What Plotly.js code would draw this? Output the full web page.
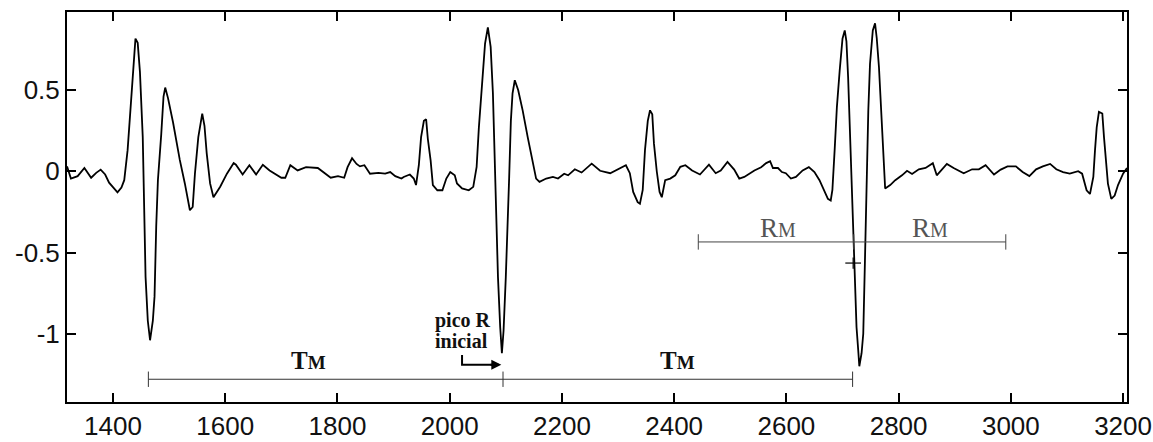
<!DOCTYPE html>
<html>
<head>
<meta charset="utf-8">
<script src="https://cdn.plot.ly/plotly-3.0.1.min.js"></script>
<style>
  html, body { margin: 0; padding: 0; background: #fff; }
  #chart { width: 1153px; height: 442px; }
</style>
</head>
<body>
<div id="chart"></div>
<script>
// ECG segment (sample index vs. amplitude)
const sampleIdx = [
  1318, 1325, 1337, 1349, 1361, 1370, 1378, 1386, 1393, 1402, 1408, 1415, 1420, 1426, 1432, 1435, 1438, 1440, 1444, 1448,
  1453, 1456, 1458, 1462, 1466, 1471, 1474, 1477, 1480, 1486, 1490, 1493, 1498, 1507, 1519, 1528, 1537, 1542, 1546, 1552,
  1555, 1559, 1563, 1567, 1573, 1579, 1591, 1603, 1615, 1619, 1631, 1643, 1655, 1667, 1679, 1688, 1700, 1707, 1716, 1729,
  1744, 1765, 1777, 1788, 1801, 1812, 1818, 1826, 1834, 1840, 1848, 1858, 1873, 1885, 1894, 1903, 1914, 1918, 1929, 1936,
  1940, 1945, 1949, 1954, 1958, 1961, 1966, 1970, 1978, 1987, 1994, 2001, 2009, 2013, 2022, 2034, 2042, 2048, 2052, 2058,
  2063, 2068, 2073, 2077, 2080, 2083, 2086, 2090, 2093, 2096, 2100, 2106, 2109, 2112, 2116, 2122, 2130, 2139, 2148, 2154,
  2160, 2172, 2184, 2193, 2204, 2211, 2223, 2235, 2253, 2268, 2286, 2298, 2314, 2321, 2327, 2335, 2339, 2344, 2348, 2353,
  2357, 2361, 2364, 2369, 2374, 2378, 2384, 2393, 2402, 2411, 2420, 2432, 2446, 2462, 2474, 2483, 2495, 2507, 2516, 2525,
  2534, 2543, 2555, 2564, 2571, 2576, 2585, 2592, 2599, 2608, 2617, 2629, 2640, 2650, 2659, 2666, 2674, 2679, 2682, 2686,
  2690, 2695, 2700, 2704, 2707, 2710, 2713, 2716, 2719, 2722, 2725, 2728, 2730, 2734, 2737, 2740, 2743, 2746, 2749, 2754,
  2758, 2761, 2765, 2770, 2774, 2776, 2785, 2794, 2806, 2815, 2824, 2836, 2848, 2861, 2868, 2877, 2886, 2898, 2916, 2931,
  2943, 2955, 2970, 2982, 2994, 3009, 3021, 3033, 3045, 3057, 3070, 3081, 3093, 3105, 3120, 3127, 3135, 3141, 3147, 3150,
  3153, 3157, 3163, 3166, 3169, 3173, 3179, 3185, 3191, 3200, 3207
];
const amplitude = [
  0.03, -0.045, -0.03, 0.02, -0.04, -0.01, 0.01, -0.02, -0.07, -0.11, -0.13, -0.10, -0.055, 0.13, 0.42, 0.61, 0.76, 0.816, 0.79, 0.61,
  0.21, -0.20, -0.65, -0.92, -1.04, -0.92, -0.77, -0.34, -0.055, 0.23, 0.46, 0.515, 0.45, 0.30, 0.07, -0.075, -0.24, -0.22, -0.015, 0.21,
  0.28, 0.355, 0.28, 0.11, -0.075, -0.16, -0.095, -0.015, 0.05, 0.04, -0.02, 0.037, -0.02, 0.04, 0.005, -0.015, -0.04, -0.04, 0.037, 0.005,
  0.025, 0.02, -0.012, -0.04, -0.03, -0.04, 0.025, 0.08, 0.045, 0.03, 0.037, -0.015, -0.01, -0.015, -0.005, -0.03, -0.045, -0.035, -0.02, -0.045,
  -0.085, 0.037, 0.21, 0.31, 0.32, 0.20, 0.067, -0.085, -0.117, -0.117, -0.045, -0.005, -0.025, -0.075, -0.106, -0.117, -0.096, 0.027, 0.27, 0.58,
  0.785, 0.885, 0.765, 0.48, 0.09, -0.24, -0.65, -0.96, -1.12, -0.98, -0.65, -0.035, 0.31, 0.48, 0.56, 0.50, 0.375, 0.21, 0.047, -0.045,
  -0.065, -0.045, -0.035, -0.045, -0.015, -0.025, 0.012, -0.008, 0.047, 0.003, -0.012, 0.01, 0.037, -0.012, -0.127, -0.19, -0.20, -0.115, 0.13, 0.31,
  0.375, 0.35, 0.17, 0.0, -0.127, -0.16, -0.055, -0.045, -0.025, 0.027, 0.037, 0.005, -0.02, 0.04, -0.012, 0.005, 0.057, 0.01, -0.045, -0.035,
  -0.015, 0.005, 0.025, 0.05, 0.062, 0.02, 0.02, -0.005, -0.012, -0.045, -0.035, 0.005, 0.025, -0.005, -0.055, -0.106, -0.17, -0.18, -0.115, 0.13,
  0.395, 0.62, 0.816, 0.867, 0.80, 0.58, 0.27, -0.137, -0.445, -0.75, -0.96, -1.10, -1.20, -1.12, -1.00, -0.55, -0.035, 0.375, 0.66, 0.867,
  0.91, 0.82, 0.64, 0.31, 0.047, -0.106, -0.085, -0.055, -0.025, 0.003, -0.017, 0.012, 0.02, 0.05, -0.025, 0.012, 0.045, 0.02, -0.012, 0.012,
  0.012, 0.037, -0.02, 0.01, 0.03, 0.03, -0.005, -0.03, 0.012, 0.03, 0.045, 0.012, -0.005, -0.015, 0.0, -0.015, -0.117, -0.14, -0.035, 0.13,
  0.27, 0.365, 0.355, 0.21, 0.06, -0.076, -0.17, -0.15, -0.085, -0.015, 0.02
];

// Axis ticks
const xTickVals = [1400, 1600, 1800, 2000, 2200, 2400, 2600, 2800, 3000, 3200];
const yTickVals = [0.5, 0, -0.5, -1];
const yTickText = ['0.5', '0', '-0.5', '-1'];

// Interval markers: mean period T_M (R peak to R peak) and half-window R_M
const tmStarts = [1463, 2095];
const tmEnds = [2095, 2718];
const tmLevel = -1.28;
const rmStarts = [2443, 2720];
const rmEnds = [2720, 2991];
const rmLevel = -0.435;

// Initial R peak and the detected peak marker
const initialPeak = {x: 2092, y: -1.19};
const detectedPeak = {x: 2719, y: -0.565, halfWidth: 14};

function intervalTrace(starts, ends, level, color) {
  const xs = [], ys = [];
  starts.forEach((s, i) => { xs.push(s, ends[i], null); ys.push(level, level, null); });
  return {
    x: xs, y: ys, mode: 'lines', type: 'scatter', hoverinfo: 'skip',
    line: {color: color, width: 1}
  };
}
function endTicks(starts, ends, level, color) {
  const xs = Array.from(new Set(starts.concat(ends)));
  return {
    x: xs, y: xs.map(() => level), mode: 'markers', type: 'scatter', hoverinfo: 'skip',
    marker: {symbol: 'line-ns-open', size: 11, color: color, line: {color: color, width: 1}}
  };
}

const traces = [
  {
    x: sampleIdx, y: amplitude, mode: 'lines', type: 'scatter',
    line: {color: '#000', width: 1.8}
  },
  intervalTrace(tmStarts, tmEnds, tmLevel, '#333'),
  endTicks(tmStarts, tmEnds, tmLevel, '#333'),
  intervalTrace(rmStarts, rmEnds, rmLevel, '#444'),
  endTicks(rmStarts, rmEnds, rmLevel, '#444'),
  {
    x: [detectedPeak.x - detectedPeak.halfWidth, detectedPeak.x + detectedPeak.halfWidth],
    y: [detectedPeak.y, detectedPeak.y],
    mode: 'lines', type: 'scatter', hoverinfo: 'skip', line: {color: '#000', width: 1.2}
  },
  {
    x: [detectedPeak.x], y: [detectedPeak.y], mode: 'markers', type: 'scatter', hoverinfo: 'skip',
    marker: {symbol: 'line-ns-open', size: 8, color: '#000', line: {color: '#000', width: 1.2}}
  },
  {
    x: [2022, 2022, 2084], y: [-1.13, initialPeak.y, initialPeak.y],
    mode: 'lines', type: 'scatter', hoverinfo: 'skip', line: {color: '#000', width: 2}
  }
];

const serif = 'Liberation Serif, Times New Roman, serif';
const tmLabel = 'T<span style="font-size:19px">M</span>';
const rmLabel = 'R<span style="font-size:20px">M</span>';

const annotations = [
  {x: (tmStarts[0] + tmEnds[0]) / 2 - 30, y: tmLevel, yshift: 3, yanchor: 'bottom', text: '<b>' + tmLabel + '</b>', showarrow: false,
   font: {family: serif, size: 25, color: '#111'}},
  {x: (tmStarts[1] + tmEnds[1]) / 2, y: tmLevel, yshift: 3, yanchor: 'bottom', text: '<b>' + tmLabel + '</b>', showarrow: false,
   font: {family: serif, size: 25, color: '#111'}},
  {x: (rmStarts[0] + rmEnds[0]) / 2 + 3, y: rmLevel, yshift: -3, yanchor: 'bottom', text: rmLabel, showarrow: false,
   font: {family: serif, size: 27, color: '#555'}},
  {x: (rmStarts[1] + rmEnds[1]) / 2, y: rmLevel, yshift: -3, yanchor: 'bottom', text: rmLabel, showarrow: false,
   font: {family: serif, size: 27, color: '#555'}},
  {x: 1970, y: -0.916, xanchor: 'left', yanchor: 'middle', text: '<b>pico R</b>', showarrow: false,
   font: {family: serif, size: 20, color: '#111'}},
  {x: 1970, y: -1.045, xanchor: 'left', yanchor: 'middle', text: '<b>inicial</b>', showarrow: false,
   font: {family: serif, size: 20, color: '#111'}},
  {x: initialPeak.x, y: initialPeak.y, ax: 2070, ay: initialPeak.y, axref: 'x', ayref: 'y',
   text: '', showarrow: true, arrowhead: 2, arrowsize: 1, arrowwidth: 2, arrowcolor: '#000'}
];

const axisCommon = {
  showline: true, linewidth: 2, linecolor: '#000', mirror: 'ticks',
  ticks: 'inside', ticklen: 9, tickwidth: 2, tickcolor: '#000',
  showgrid: false, zeroline: false,
  tickfont: {family: 'Liberation Sans, Arial, sans-serif', size: 26, color: '#111'}
};

const layout = {
  width: 1153, height: 442,
  margin: {l: 67, r: 26, t: 12, b: 40},
  paper_bgcolor: '#fff', plot_bgcolor: '#fff',
  showlegend: false,
  xaxis: Object.assign({}, axisCommon, {range: [1318, 3207], tickvals: xTickVals, ticklabelstandoff: 0}),
  yaxis: Object.assign({}, axisCommon, {range: [-1.42, 0.98], tickvals: yTickVals, ticktext: yTickText, ticklabelstandoff: 0}),
  annotations: annotations
};

Plotly.newPlot('chart', traces, layout, {staticPlot: true, displayModeBar: false});
</script>
</body>
</html>
